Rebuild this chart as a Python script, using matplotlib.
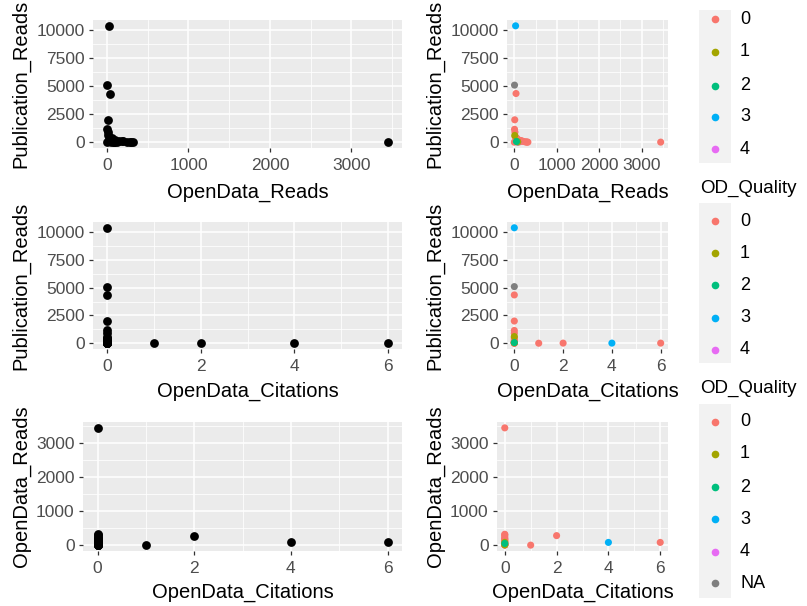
import numpy as np
import matplotlib
matplotlib.use("Agg")
import matplotlib.pyplot as plt
from matplotlib.ticker import MultipleLocator

plt.rcParams['font.family'] = ['Liberation Sans', 'DejaVu Sans']

# data (one row per record)
od_reads = [30, 5, 40, 10, 5, 15, 20, 60, 100, 150, 200, 120, 250, 180,
            300, 320, 3450, 0, 280, 80, 80, 10, 80, 50]
od_cit = [0, 0, 0, 0, 0, 0, 0, 0, 0, 0, 0, 0, 0, 0,
          0, 0, 0, 1, 2, 4, 6, 0, 0, 0]
pub_reads = [10400, 5100, 4350, 2000, 1150, 900, 500, 350, 200, 150, 80, 30, 40, 100,
             10, 5, 5, 0, 10, 10, 10, 600, 40, 60]
od_quality = [3, None, 0, 0, 0, 0, 0, 0, 0, 0, 0, 0, 0, 0,
              0, 0, 0, 0, 0, 3, 0, 1, 1, 2]

levels = ['0', '1', '2', '3', '4']
level_colors = ['#F8766D', '#A3A500', '#00BF7D', '#00B0F6', '#E76BF3']
na_color = '#7F7F7F'

W, H = 807, 606
fig = plt.figure(figsize=(W / 100, H / 100), dpi=100)

TICK_C = '#4D4D4D'


def add_panel(left, top, right, bottom):
    return fig.add_axes([left / W, 1 - bottom / H, (right - left) / W, (bottom - top) / H])


def style(ax, x, y, xmaj, ymaj, xlab, ylab, ylab_px, xlab_px):
    xr = max(x) - min(x)
    yr = max(y) - min(y)
    ax.set_xlim(min(x) - 0.05 * xr, max(x) + 0.05 * xr)
    ax.set_ylim(min(y) - 0.05 * yr, max(y) + 0.05 * yr)
    ax.set_facecolor('#EBEBEB')
    for s in ax.spines.values():
        s.set_visible(False)
    ax.xaxis.set_major_locator(MultipleLocator(xmaj))
    ax.yaxis.set_major_locator(MultipleLocator(ymaj))
    ax.xaxis.set_minor_locator(MultipleLocator(xmaj / 2))
    ax.yaxis.set_minor_locator(MultipleLocator(ymaj / 2))
    ax.grid(which='major', color='white', lw=1.1)
    ax.grid(which='minor', color='white', lw=0.55)
    ax.set_axisbelow(True)
    ax.tick_params(which='major', length=3, width=0.9, color='#333333',
                   labelsize=12.5, labelcolor=TICK_C, pad=3)
    ax.tick_params(axis='x', which='major', pad=4.5)
    ax.tick_params(which='minor', length=0)
    ax.set_xlabel(xlab, fontsize=14.5, color='black')
    ax.set_ylabel(ylab, fontsize=14.5, color='black')
    # place axis titles at pixel positions
    bb = ax.get_position()
    l, b, w, h = bb.x0 * W, bb.y0 * H, bb.width * W, bb.height * H
    ax.yaxis.set_label_coords((ylab_px - l) / w, 0.5)
    ax.xaxis.set_label_coords(0.5, ((H - xlab_px) - b) / h)
    ax.xaxis.label.set_va('center')
    ax.yaxis.label.set_va('center')


rows = [
    (od_reads, pub_reads, 1000, 2500, 'OpenData_Reads', 'Publication_Reads', 20, 148, 192, 93, 507),
    (od_cit, pub_reads, 2, 2500, 'OpenData_Citations', 'Publication_Reads', 222, 349, 391, 93, 507),
    (od_cit, od_reads, 2, 1000, 'OpenData_Citations', 'OpenData_Reads', 422, 551, 592, 83, 497),
]

for x, y, xmaj, ymaj, xlab, ylab, top, bottom, xl_y, left_l, left_r in rows:
    axl = add_panel(left_l, top, 402, bottom)
    axl.scatter(x, y, s=40, color='black', linewidths=0, zorder=3)
    style(axl, x, y, xmaj, ymaj, xlab, ylab, 21, xl_y)

    axr = add_panel(left_r, top, 668, bottom)
    cols = [na_color if q is None else level_colors[q] for q in od_quality]
    axr.scatter(x, y, s=26, c=cols, linewidths=0, zorder=3)
    style(axr, x, y, xmaj, ymaj, xlab, ylab, 435, xl_y)

# legends (key column + labels)
legends = [
    (10, 163, [19, 52, 86, 117, 149], levels, None),
    (203, 363, [221, 253, 285, 318, 350], levels, 188),
    (404, 598, [422, 454, 487, 519, 552, 583], levels + ['NA'], 388),
]
for top, bottom, keys, labs, title_y in legends:
    kax = add_panel(699, top, 731, bottom)
    kax.set_facecolor('#F2F2F2')
    kax.set_xlim(0, 32)
    kax.set_ylim(bottom, top)
    kax.set_xticks([])
    kax.set_yticks([])
    for s in kax.spines.values():
        s.set_visible(False)
    for ky, lab in zip(keys, labs):
        c = na_color if lab == 'NA' else level_colors[int(lab)]
        kax.plot([16], [ky], 'o', ms=5.5, color=c, mec='none')
        fig.text(740 / W, 1 - ky / H, lab, fontsize=13, ha='left', va='center')
    if title_y is not None:
        fig.text(700 / W, 1 - title_y / H, 'OD_Quality', fontsize=13.5,
                 ha='left', va='center')

fig.savefig('out.png', dpi=100)
